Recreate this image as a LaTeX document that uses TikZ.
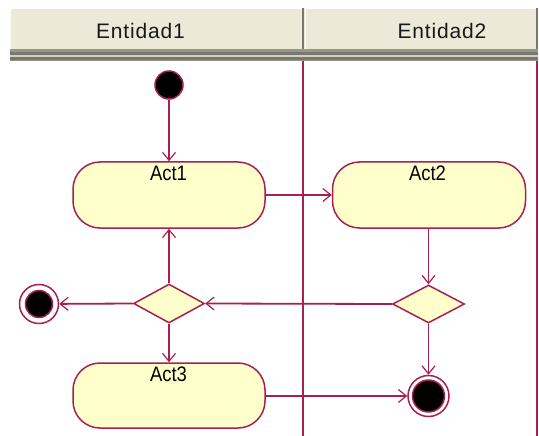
\documentclass[tikz,border=0pt]{standalone}
\usepackage{fontspec}
\setmainfont{Liberation Sans}
\newfontfamily\hdrfont[LetterSpace=4]{Liberation Sans}
\usetikzlibrary{shapes.geometric,arrows.meta}
\definecolor{lc}{RGB}{168,32,82}
\definecolor{actfill}{RGB}{255,255,204}
\definecolor{hdrfill}{RGB}{236,233,216}
\definecolor{hdrgray}{RGB}{150,150,138}
\definecolor{hdrdark}{RGB}{120,120,110}
\tikzset{
  actbox/.style={draw=lc, line width=1.5pt, fill=actfill, rectangle, rounded corners=27pt,
    minimum width=192pt, minimum height=66pt, inner sep=0pt},
  actlabel/.style={anchor=base, inner sep=0pt, font=\fontsize{21}{24}\selectfont, text=black},
  hdrlabel/.style={anchor=base, inner sep=0pt, font=\hdrfont\fontsize{21}{24}\selectfont, text=black!90},
  decision/.style={draw=lc, line width=1.5pt, fill=actfill, diamond, inner sep=0pt,
    minimum width=71pt, minimum height=39pt},
  initnode/.style={draw=lc, line width=1.5pt, fill=black, circle, minimum size=28pt, inner sep=0pt},
  finalout/.style={draw=lc, line width=1.5pt, fill=white, circle, inner sep=0pt},
  finalin/.style={draw=lc, line width=1.5pt, fill=black, circle, inner sep=0pt},
  flow/.style={draw=lc, line width=1.8pt,
    -{Straight Barb[length=8pt,width=13pt,line width=1.2pt]}},
  lane/.style={draw=lc, line width=1.8pt}
}
\begin{document}
\begin{tikzpicture}[x=1pt,y=-1pt]
\useasboundingbox (0,0) rectangle (539,436);
\fill[white] (0,0) rectangle (539,436);
% header
\fill[hdrfill] (10,8) rectangle (537,49);
\draw[white, line width=1pt] (10,49) -- (10,8.5) -- (537,8.5);
\fill[hdrdark] (301.5,8) rectangle (304,49);
\draw[white, line width=1pt] (305,9) -- (305,49);
\fill[hdrdark] (535.5,8) rectangle (537.5,49);
\fill[hdrgray] (10,49) rectangle (537.5,61);
\fill[hdrdark] (10,52) rectangle (537.5,55);
\fill[hdrfill!70!hdrgray] (10,55.5) rectangle (537.5,57);
\fill[hdrdark] (10,57.5) rectangle (537.5,60);
\node[hdrlabel] (h1) at (140.5,38.5) {Entidad1};
\node[hdrlabel] (h2) at (442,38.5) {Entidad2};
% lanes
\coordinate (l1t) at (303,61);
\coordinate (l1b) at (303,436);
\coordinate (l2t) at (537,61);
\coordinate (l2b) at (537,436);
\draw[lane] (l1t) -- (l1b);
\draw[lane] (l2t) -- (l2b);
% nodes
\node[initnode] (init) at (169,85) {};
\node[actbox] (act1) at (169,195) {};
\node[actlabel] (t1) at (168.5,180) {\scalebox{0.88}[1]{Act1}};
\node[actbox, minimum width=193pt] (act2) at (429,195) {};
\node[actlabel] (t2) at (427.5,180) {\scalebox{0.88}[1]{Act2}};
\node[decision] (dia1) at (169,303.5) {};
\node[decision, minimum width=72pt, minimum height=38pt] (dia2) at (428.5,304) {};
\node[actbox, minimum height=65pt] (act3) at (169,395.5) {};
\node[actlabel] (t3) at (168.5,381) {\scalebox{0.88}[1]{Act3}};
\node[finalout, minimum size=39pt] (fin1) at (39,304) {};
\node[finalin, minimum size=27pt] (fin1in) at (fin1) {};
\node[finalout, minimum size=41pt] (fin2) at (428.5,396) {};
\node[finalin, minimum size=32pt] (fin2in) at (fin2) {};
% flows
\draw[flow] (init) -- (act1);
\draw[flow] (act1.east) -- (act2.west);
\draw[flow] (act2.south -| dia2) -- (dia2.north);
\draw[flow] (dia2.west) -- (dia1.east);
\draw[flow] (dia1.north) -- (act1.south);
\draw[flow] (dia1.west) -- (fin1);
\draw[flow] (dia1.south) -- (act3.north);
\draw[flow] (act3.east |- fin2) -- (fin2);
\draw[flow] (dia2.south) -- (fin2);
\end{tikzpicture}
\end{document}
